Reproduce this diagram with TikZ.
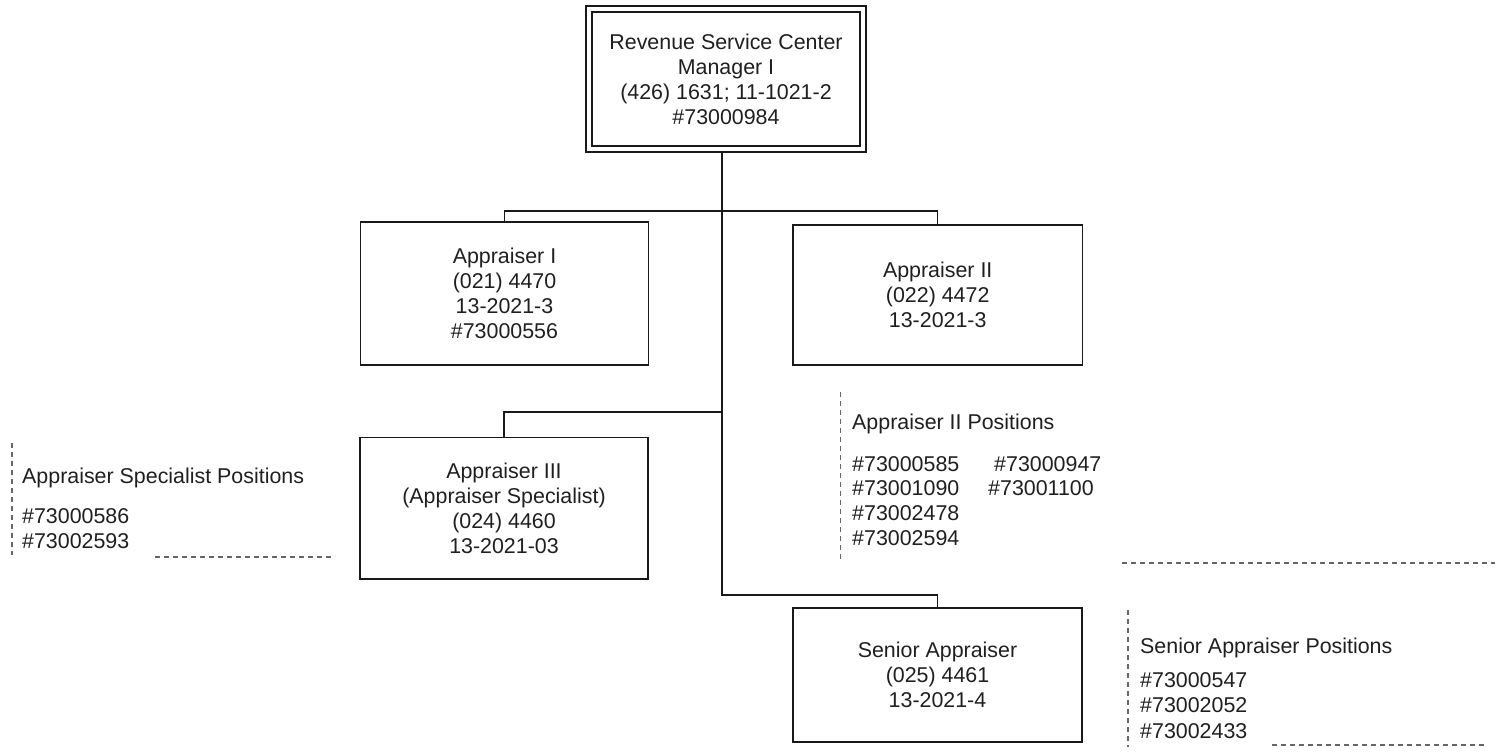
\documentclass[tikz,border=0pt]{standalone}
\usepackage{fontspec}
\setmainfont{Liberation Sans}
\begin{document}
\begin{tikzpicture}[x=1pt,y=-1pt,
  every node/.style={font=\fontsize{21.4}{25}\selectfont, text=black!88, inner sep=0pt},
  post/.style={draw=black!90, line width=1.5pt, align=center, minimum width=288pt},
  link/.style={draw=black!90, line width=1.5pt},
  guide/.style={draw=black!60, line width=1.1pt, dash pattern=on 5pt off 4pt},
  listline/.style={anchor=base west}
]
\useasboundingbox (0,0) rectangle (1495,752);

% positions
\node[post, double, double distance=4.5pt, minimum width=274pt, minimum height=140pt] (mgr) at (726,79)
  {Revenue Service Center\\Manager I\\(426) 1631; 11-1021-2\\\#73000984};
\node[post, minimum height=143pt] (ap1) at (504.5,293.5)
  {Appraiser I\\(021) 4470\\13-2021-3\\\#73000556};
\node[post, minimum width=289.5pt, minimum height=140pt] (ap2) at (937.7,295)
  {Appraiser II\\(022) 4472\\13-2021-3};
\node[post, minimum height=141.5pt] (ap3) at (504,508)
  {Appraiser III\\(Appraiser Specialist)\\(024) 4460\\13-2021-03};
\node[post, minimum width=289pt, minimum height=134pt] (sen) at (937.5,675)
  {Senior Appraiser\\(025) 4461\\13-2021-4};

% reporting lines
\coordinate (j1) at (722,211);
\coordinate (j2) at (722,412);
\coordinate (j3) at (722,595);
\draw[link] (mgr.south -| j1) ++(0,3.2) -- (j3) -| (sen.north);
\draw[link] (j1) -| (ap1.north);
\draw[link] (j1) -| (ap2.north);
\draw[link] (j2) -| (ap3.north);

% appraiser specialist position list
\node[listline] (spT) at (22,483) {Appraiser Specialist Positions};
\node[listline] (sp1) at (22,523) {\#73000586};
\node[listline] (sp2) at (22,548) {\#73002593};
\draw[guide] (12,443) -- (12,555);
\draw[guide] (155,557) -- (335,557);

% appraiser II position list
\node[listline] (a2T) at (852,429) {Appraiser II Positions};
\node[listline] (a21) at (852,471) {\#73000585};
\node[listline] (a22) at (852,495.5) {\#73001090};
\node[listline] (a23) at (852,520.5) {\#73002478};
\node[listline] (a24) at (852,545.5) {\#73002594};
\node[listline] (a25) at (994,471) {\#73000947};
\node[listline] (a26) at (988,495.5) {\#73001100};
\draw[guide] (840.5,392) -- (840.5,560);
\draw[guide] (1122,563) -- (1495,563);

% senior appraiser position list
\node[listline] (snT) at (1140,653) {Senior Appraiser Positions};
\node[listline] (sn1) at (1140,687) {\#73000547};
\node[listline] (sn2) at (1140,712.5) {\#73002052};
\node[listline] (sn3) at (1140,738) {\#73002433};
\draw[guide] (1128,610) -- (1128,747);
\draw[guide] (1272,745) -- (1485,745);
\end{tikzpicture}
\end{document}
